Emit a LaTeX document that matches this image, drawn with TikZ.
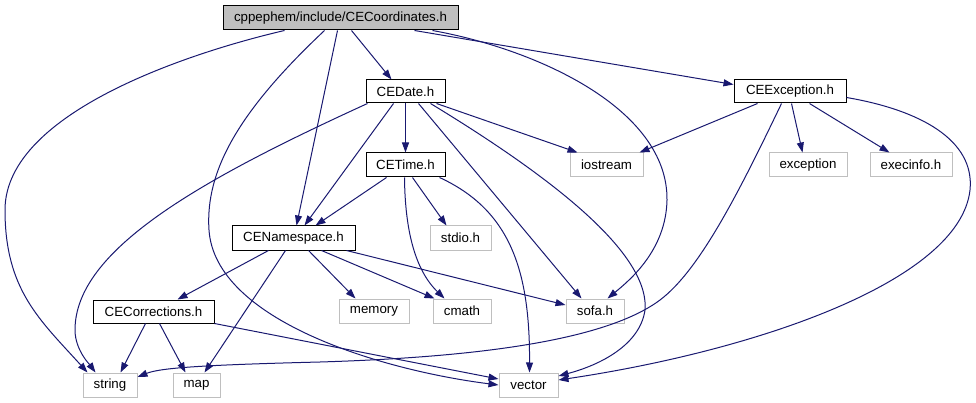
\documentclass[tikz,border=0pt]{standalone}
\usepackage{fontspec}
\setmainfont{Liberation Sans}
\usetikzlibrary{arrows.meta}
\definecolor{edgecol}{HTML}{191970}
\definecolor{boxgray}{HTML}{BFBFBF}
\begin{document}
\begin{tikzpicture}[x=1pt,y=-1pt,
  base/.style={inner sep=0pt, font=\fontsize{13.3}{15}\selectfont, minimum height=24pt, line width=1pt},
  internal/.style={base, draw=black},
  external/.style={base, draw=boxgray},
  mainfile/.style={base, draw=black, fill=boxgray},
  dep/.style={draw=edgecol, line width=1pt, -{Triangle[length=10pt,width=7pt]}}
]
\useasboundingbox (0,0) rectangle (976,403);
% nodes
\node[mainfile, minimum width=235pt] (top) at (340.5,18) {cppephem/include/CECoordinates.h};
\node[internal, minimum width=79pt, minimum height=23pt] (date) at (405.5,91.5) {CEDate.h};
\node[internal, minimum width=112pt, minimum height=23pt] (exc) at (790,91.5) {CEException.h};
\node[internal, minimum width=79pt] (time) at (405.5,165) {CETime.h};
\node[external, minimum width=73pt] (iostream) at (606.5,165) {iostream};
\node[external, minimum width=78pt] (exception) at (808,165) {exception};
\node[external, minimum width=82pt] (execinfo) at (911,165) {execinfo.h};
\node[internal, minimum width=123pt] (ns) at (293.5,238) {CENamespace.h};
\node[external, minimum width=61pt] (stdio) at (460.5,238) {stdio.h};
\node[internal, minimum width=121pt, minimum height=23pt] (corr) at (153.5,311.5) {CECorrections.h};
\node[external, minimum width=70pt] (memory) at (374,311) {memory};
\node[external, minimum width=58pt] (cmath) at (462,311) {cmath};
\node[external, minimum width=58pt] (sofa) at (595,311) {sofa.h};
\node[external, minimum width=54pt] (string) at (110,385) {string};
\node[external, minimum width=47pt] (map) at (196.5,385) {map};
\node[external, minimum width=59pt] (vector) at (528.5,385) {vector};
% edges from CECoordinates.h
\draw[dep] ([xshift=62pt]top.south west) .. controls (200,50) and (5,110) .. (5,210)
  .. controls (5,290) and (40,320) .. ([xshift=5pt]string.north west);
\draw[dep] ([xshift=102pt]top.south west) .. controls (240,110) and (205,170) .. (209,230)
  .. controls (215,320) and (380,370) .. (vector.west);
\draw[dep] ([xshift=115pt]top.south west) -- ([xshift=65pt]ns.north west);
\draw[dep] ([xshift=129pt]top.south west) -- ([xshift=26pt]date.north west);
\draw[dep] ([xshift=210pt]top.south west) .. controls (540,50) and (668,110) .. (667,200)
  .. controls (666,250) and (630,280) .. ([xshift=42pt]sofa.north west);
\draw[dep] ([xshift=192pt]top.south west) -- ([yshift=7pt]exc.west);
% edges from CEDate.h
\draw[dep] ([xshift=2pt]date.south west) .. controls (200,180) and (75,250) .. (75,330)
  .. controls (75,350) and (90,365) .. ([xshift=13pt]string.north west);
\draw[dep] ([xshift=28pt]date.south west) -- ([xshift=73pt]ns.north west);
\draw[dep] (date.south) -- (time.north);
\draw[dep] ([xshift=71pt]date.south west) -- ([xshift=8pt]iostream.north west);
\draw[dep] ([xshift=53pt]date.south west) -- ([xshift=16pt]sofa.north west);
\draw[dep] ([xshift=65pt]date.south west) .. controls (540,170) and (650,250) .. (645,310)
  .. controls (640,345) and (600,365) .. ([yshift=9pt]vector.east);
% edges from CEException.h
\draw[dep] ([xshift=24pt]exc.south west) -- ([xshift=70pt]iostream.north west);
\draw[dep] ([xshift=48pt]exc.south west) .. controls (740,190) and (700,270) .. (660,300)
  .. controls (600,345) and (450,358) .. (320,362)
  .. controls (200,365) and (160,368) .. ([yshift=8pt]string.east);
\draw[dep] ([xshift=58pt]exc.south west) -- ([xshift=34pt]exception.north west);
\draw[dep] ([xshift=76pt]exc.south west) -- ([xshift=20pt]execinfo.north west);
\draw[dep] ([yshift=-6pt]exc.east) .. controls (920,110) and (975,140) .. (970,190)
  .. controls (960,280) and (760,350) .. ([yshift=5pt]vector.east);
% edges from CETime.h
\draw[dep] ([xshift=21pt]time.south west) -- ([xshift=84pt]ns.north west);
\draw[dep] ([xshift=47pt]time.south west) -- ([xshift=17pt]stdio.north west);
\draw[dep] ([xshift=39pt]time.south west) .. controls (405,230) and (415,270) .. ([xshift=12pt]cmath.north west);
\draw[dep] ([xshift=74pt]time.south west) .. controls (510,210) and (530,270) .. ([xshift=31pt]vector.north west);
% edges from CENamespace.h
\draw[dep] ([xshift=37pt]ns.south west) -- ([xshift=85pt]corr.north west);
\draw[dep] ([xshift=54pt]ns.south west) -- ([xshift=32pt]map.north west);
\draw[dep] ([xshift=77pt]ns.south west) -- ([xshift=17pt]memory.north west);
\draw[dep] ([xshift=90pt]ns.south west) -- ([xshift=2pt]cmath.north west);
\draw[dep] ([xshift=115pt]ns.south west) -- ([yshift=6pt]sofa.west);
% edges from CECorrections.h
\draw[dep] ([xshift=53pt]corr.south west) -- ([xshift=38pt]string.north west);
\draw[dep] ([xshift=67pt]corr.south west) -- ([xshift=13pt]map.north west);
\draw[dep] (corr.south east) -- ([yshift=6pt]vector.west);
\end{tikzpicture}
\end{document}
